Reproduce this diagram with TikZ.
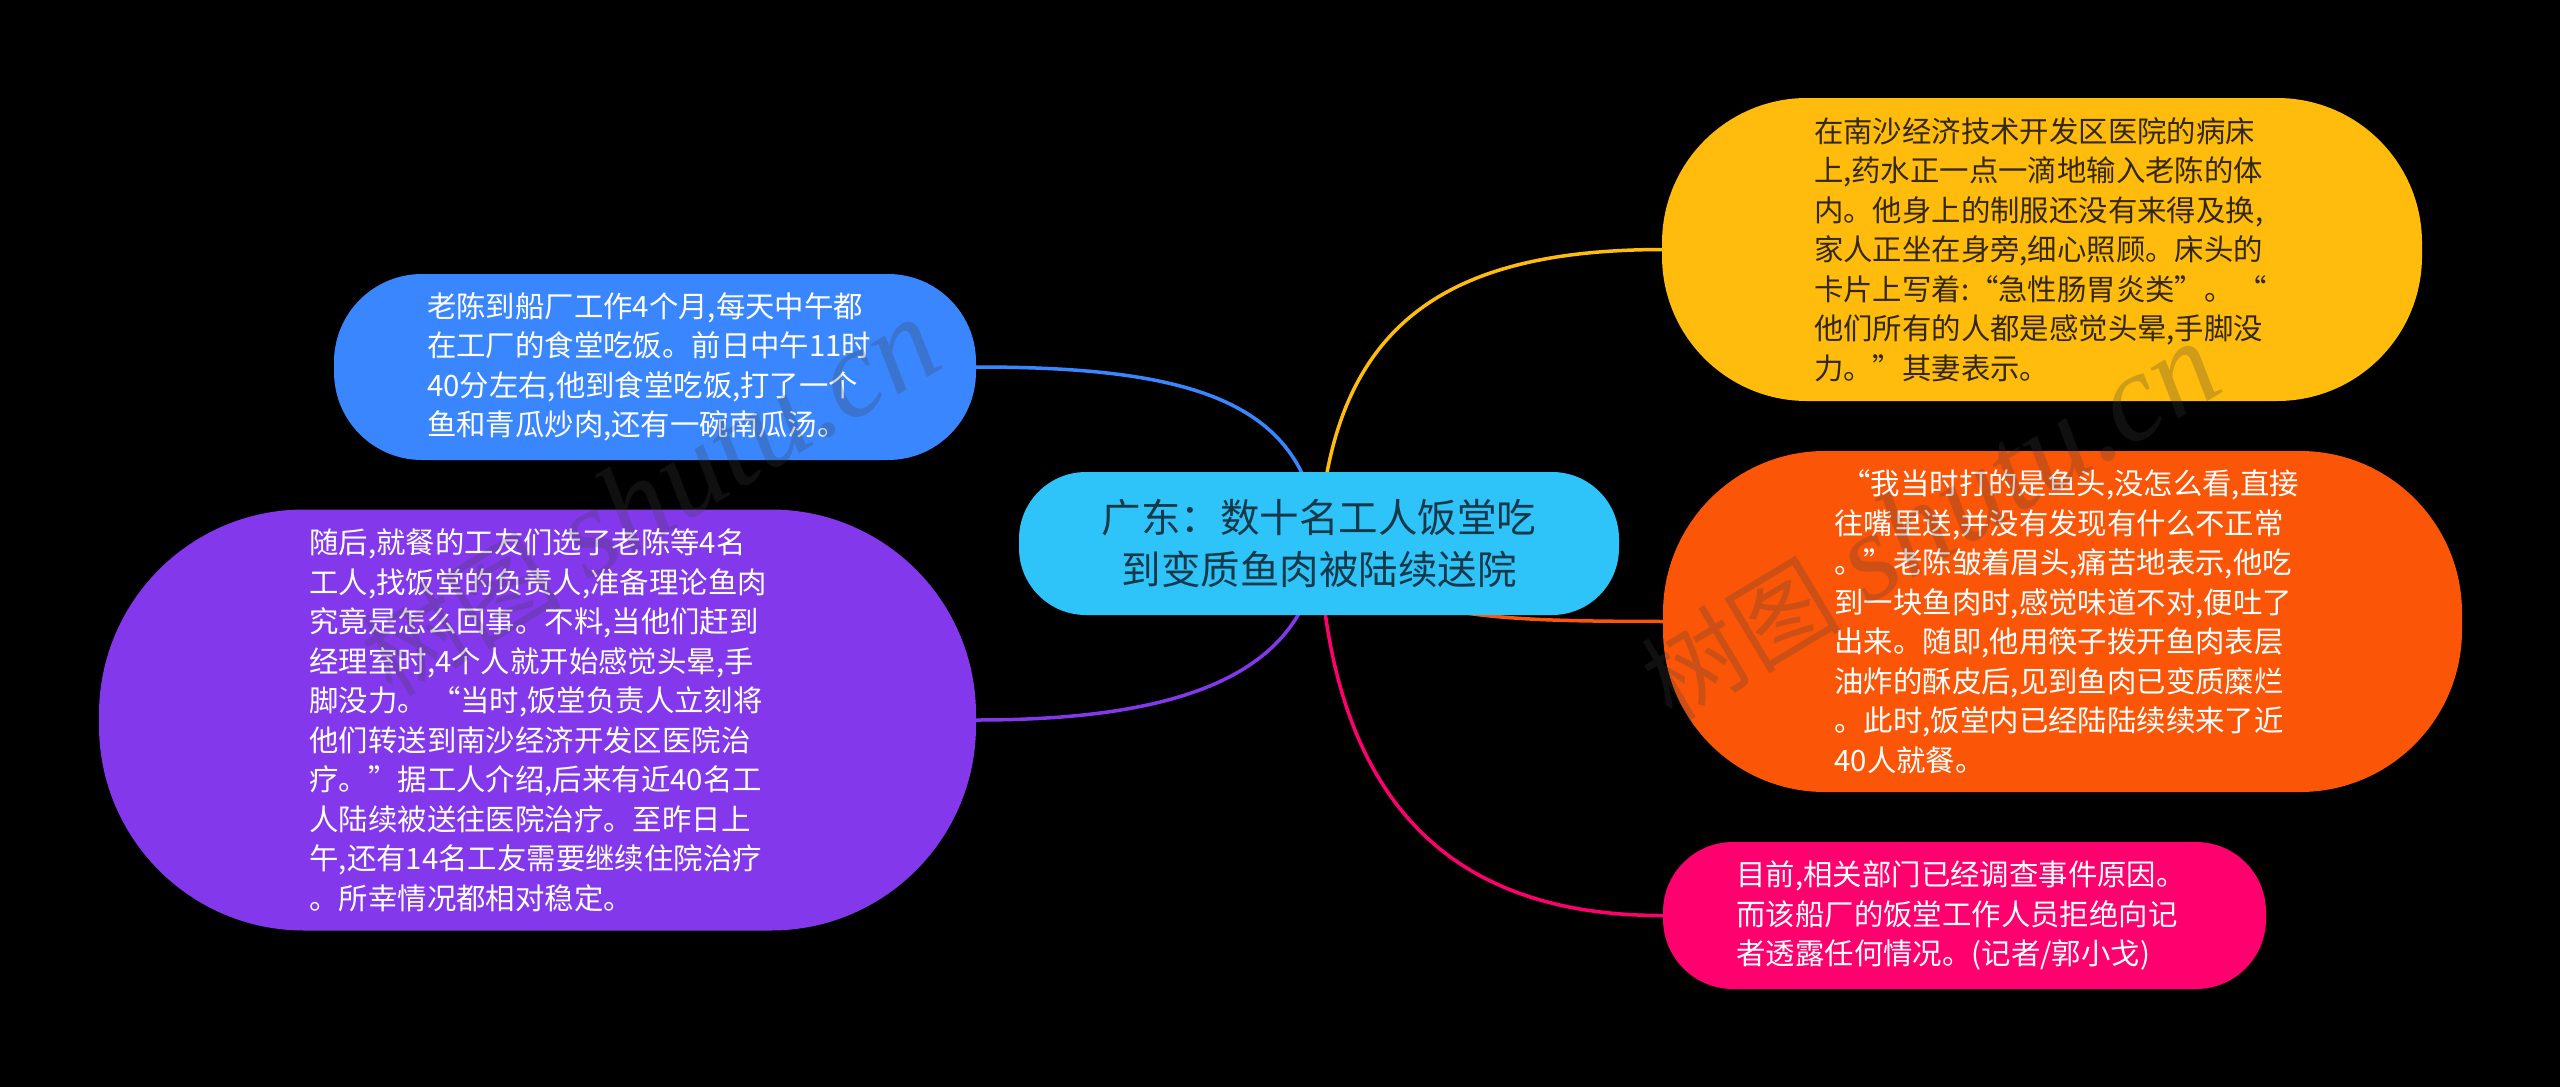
\documentclass[tikz,border=0pt]{standalone}
\usepackage{fontspec}
\setmainfont{Noto Sans CJK SC}
\newfontfamily\wmfont{Liberation Serif}
\usetikzlibrary{backgrounds}
\definecolor{cyanroot}{HTML}{2EC4FA}
\definecolor{cblue}{HTML}{3A86FF}
\definecolor{cpurple}{HTML}{8338EC}
\definecolor{cyellow}{HTML}{FFBC0D}
\definecolor{corange}{HTML}{FB5607}
\definecolor{cpink}{HTML}{FF006E}
\definecolor{roottext}{HTML}{16394A}
\definecolor{yellowtext}{HTML}{33290A}
\definecolor{wmgrey}{HTML}{404040}
\tikzset{
  x=1pt,y=-1pt,
  topic/.style={inner sep=0pt,text width=456pt,align=left,text=white,
    font=\fontsize{29.4}{39.5}\selectfont},
  centre/.style={inner sep=0pt,align=center,text=roottext,
    font=\fontsize{39.5}{52}\selectfont},
  link/.style={line width=3.5pt,line cap=round},
  wm/.style={inner sep=0pt,rotate=31,text=wmgrey,text opacity=.25,font=\fontsize{125}{125}\selectfont}
}
\begin{document}
\begin{tikzpicture}
\useasboundingbox (0,0) rectangle (2560,1087);
\node[fill=cyanroot,rounded corners=67pt,minimum width=600pt,minimum height=143pt,centre] (root) at (1319,543.5) {广东：数十名工人饭堂吃\\到变质鱼肉被陆续送院};
\node[fill=cblue,rounded corners=88pt,minimum width=642pt,minimum height=186pt,topic] (blue) at (655,367) {老陈到船厂工作4个月,每天中午都\\在工厂的食堂吃饭。前日中午11时\\40分左右,他到食堂吃饭,打了一个\\鱼和青瓜炒肉,还有一碗南瓜汤。};
\node[fill=cpurple,rounded corners=205pt,minimum width=877pt,minimum height=421pt,topic] (purple) at (537.5,720) {随后,就餐的工友们选了老陈等4名\\工人,找饭堂的负责人,准备理论鱼肉\\究竟是怎么回事。不料,当他们赶到\\经理室时,4个人就开始感觉头晕,手\\脚没力。\kern4pt“当时,饭堂负责人立刻将\\他们转送到南沙经济开发区医院治\\疗。”据工人介绍,后来有近40名工\\人陆续被送往医院治疗。至昨日上\\午,还有14名工友需要继续住院治疗\\。所幸情况都相对稳定。};
\node[fill=cyellow,rounded corners=145pt,minimum width=760pt,minimum height=303pt,topic,text=yellowtext] (yellow) at (2042,249.5) {在南沙经济技术开发区医院的病床\\上,药水正一点一滴地输入老陈的体\\内。他身上的制服还没有来得及换,\\家人正坐在身旁,细心照顾。床头的\\卡片上写着:“急性肠胃炎类”。\kern4pt“\\他们所有的人都是感觉头晕,手脚没\\力。”其妻表示。};
\node[fill=corange,rounded corners=162pt,minimum width=799pt,minimum height=341pt,topic] (orange) at (2062.5,621.5) {\hspace*{7pt}“我当时打的是鱼头,没怎么看,直接\\往嘴里送,并没有发现有什么不正常\\。”老陈皱着眉头,痛苦地表示,他吃\\到一块鱼肉时,感觉味道不对,便吐了\\出来。随即,他用筷子拨开鱼肉表层\\油炸的酥皮后,见到鱼肉已变质糜烂\\。此时,饭堂内已经陆陆续续来了近\\40人就餐。};
\node[fill=cpink,rounded corners=70pt,minimum width=603pt,minimum height=147pt,topic] (pink) at (1964.5,915.5) {目前,相关部门已经调查事件原因。\\而该船厂的饭堂工作人员拒绝向记\\者透露任何情况。(记者/郭小戈)};
\begin{scope}[on background layer]
\fill[black] (0,0) rectangle (2560,1087);
\draw[link,cblue] (root.center) .. controls (1310,400) and (1190,367) .. (blue.east);
\draw[link,cpurple] (root.center) .. controls (1310,680) and (1170,720) .. (purple.east);
\draw[link,cyellow] (root.center) .. controls (1330,320) and (1450,250) .. (yellow.west);
\draw[link,corange] (root.center) .. controls (1380,620) and (1500,621) .. (orange.west);
\draw[link,cpink] (root.center) .. controls (1330,790) and (1440,916) .. (pink.west);
\end{scope}
\node[wm] (wml) at (650,498) {{\fontsize{100}{100}\selectfont 树图} {\wmfont\itshape shutu.cn}};
\node[wm] (wmr) at (1930,522) {{\fontsize{100}{100}\selectfont 树图} {\wmfont\itshape shutu.cn}};
\end{tikzpicture}
\end{document}
